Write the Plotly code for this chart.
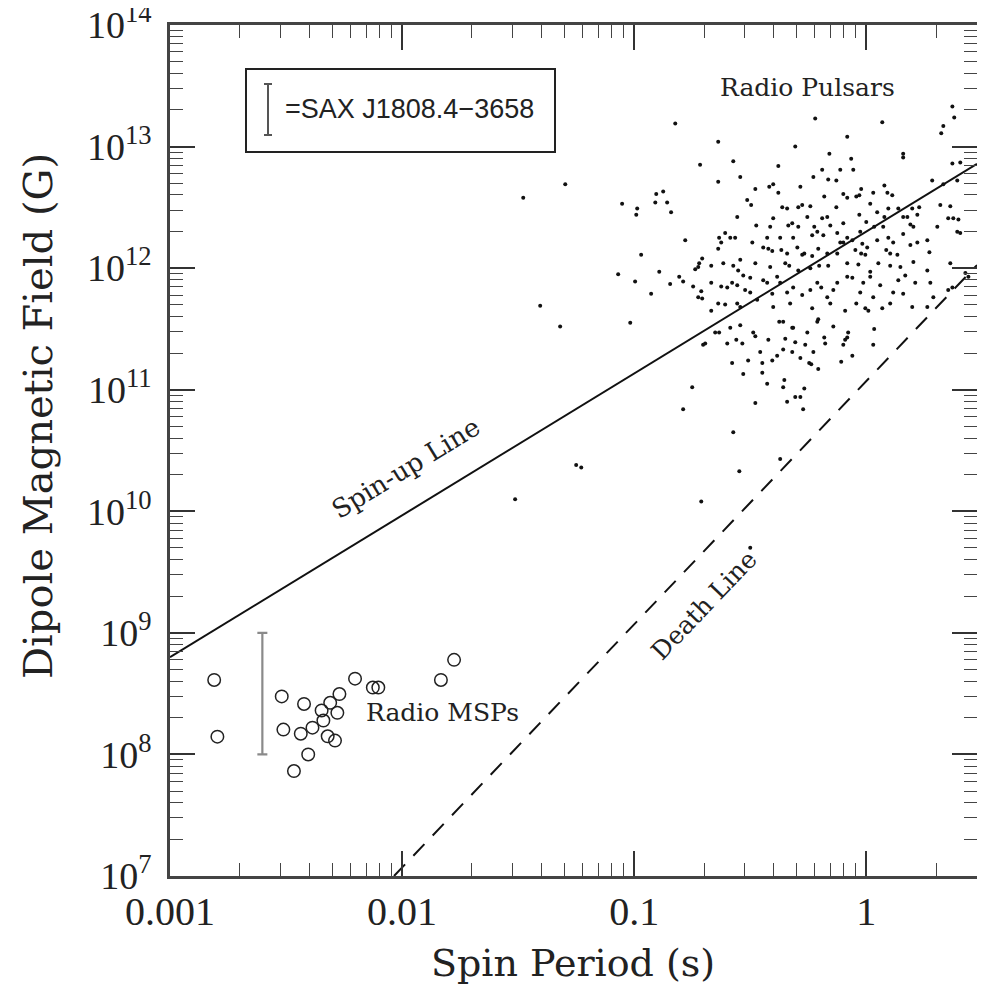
import plotly.graph_objects as go

# ---------------- data ----------------
# Radio millisecond pulsars (open circles): spin period (s), dipole field (G)
msp_period = [0.00155, 0.0016, 0.00303, 0.00308, 0.00378, 0.00366, 0.00411, 0.00394,
              0.00342, 0.0045, 0.00458, 0.0049, 0.00537, 0.00526, 0.00478, 0.00514,
              0.00627, 0.00748, 0.0079, 0.0147, 0.01675]
msp_field = [4.1e8, 1.4e8, 3.0e8, 1.6e8, 2.6e8, 1.48e8, 1.66e8, 1.0e8,
             7.3e7, 2.3e8, 1.9e8, 2.66e8, 3.14e8, 2.2e8, 1.41e8, 1.3e8,
             4.2e8, 3.55e8, 3.55e8, 4.1e8, 6.0e8]

# Radio pulsars (dots): log10 period (s), log10 field (G)
pulsar_log_period = [
    -0.823, -0.638, -0.716, -0.638, -1.297, -1.478, -1.052, -0.987, -0.991, -0.905,
    -0.875, -0.909, -0.858, -0.841, -0.780, -0.634, -0.625, -0.608, -0.638, -0.970,
    -1.069, -0.892, -0.996, -0.927, -0.845, -0.806, -0.789, -0.746, -0.737, -0.720,
    -0.707, -0.724, -0.668, -0.616, -0.668, -0.625, -0.599, -0.711, -0.724, -0.707,
    -1.405, -0.668, -0.638, -0.608, -1.319, -1.017, -0.651, -0.634, -0.703, -0.694,
    -0.599, -0.750, -0.789, -1.250, -1.228, -1.513, -0.711, 0.371, 0.379, -0.220,
    0.069, 0.332, 0.323, -0.082, -0.306, 0.159, 0.159, -0.159, -0.573, -0.065,
    -0.379, -0.112, -0.056, -0.190, -0.543, -0.164, -0.129, -0.228, 0.371, 0.284,
    -0.418, -0.401, -0.478, -0.284, -0.022, 0.078, -0.099, -0.513, -0.379, -0.181,
    -0.082, -0.043, -0.030, 0.030, 0.091, 0.112, 0.332, 0.392, -0.496, -0.362,
    -0.341, -0.293, -0.276, -0.241, -0.129, 0.017, 0.095, 0.138, 0.198, 0.228,
    0.319, 0.362, -0.556, -0.401, -0.336, -0.319, -0.254, -0.190, -0.168, -0.030,
    0.047, 0.078, 0.159, 0.177, 0.220, 0.353, 0.375, 0.397, -0.474, -0.414,
    -0.293, -0.224, -0.155, -0.099, 0.000, 0.034, 0.073, 0.190, 0.203, 0.306,
    0.392, 0.405, -0.586, -0.565, -0.491, -0.427, -0.371, -0.315, -0.233, -0.211,
    -0.185, -0.125, -0.082, -0.026, -0.112, -0.099, -0.060, -0.017, 0.004, 0.047,
    0.095, 0.116, 0.159, 0.190, 0.220, 0.263, -0.444, -0.422, -0.405, -0.366,
    -0.341, -0.297, -0.276, -0.267, -0.207, -0.168, -0.125, -0.233, -0.047, -0.022,
    -0.004, 0.086, 0.103, 0.134, 0.272, -0.543, -0.573, -0.552, -0.530, -0.478,
    -0.414, -0.349, -0.332, -0.293, -0.241, -0.203, -0.164, -0.082, -0.034, 0.017,
    0.052, 0.103, 0.147, 0.203, 0.263, 0.362, 0.427, 0.440, -0.578, -0.556,
    -0.500, -0.444, -0.427, -0.384, -0.371, -0.315, -0.211, -0.194, -0.125, -0.082,
    -0.060, -0.013, 0.017, 0.060, 0.138, 0.168, 0.211, 0.276, -0.522, -0.500,
    -0.405, -0.341, -0.276, -0.241, -0.168, -0.142, -0.026, 0.030, 0.116, 0.159,
    0.353, 0.371, -0.556, -0.543, -0.470, -0.401, -0.328, -0.233, -0.155, -0.091,
    -0.043, -0.004, 0.009, 0.069, 0.103, 0.198, 0.263, 0.289, 0.405, -0.543,
    -0.586, -0.487, -0.478, -0.560, -0.534, -0.422, -0.358, -0.375, -0.319, -0.315,
    -0.254, -0.211, -0.207, -0.142, -0.078, -0.082, -0.091, -0.181, -0.177, -0.306,
    -0.263, -0.349, 0.034, 0.030, -0.099, -0.457, -0.358, -0.319, -0.384, -0.405,
    -0.228, -0.284, -0.060, -0.509, -0.448, -0.246, -0.237, -0.207, -0.108, -0.578,
    -0.448, -0.530, -0.427, -0.353, -0.358, -0.267, -0.306, -0.284, -0.341, -0.478,
    -0.272, -0.573, -0.371, -0.547, -0.500]
pulsar_log_field = [
    13.19, 13.04, 12.85, 12.71, 12.69, 12.58, 12.53, 12.49, 12.44, 12.61,
    12.63, 12.54, 12.54, 12.46, 12.23, 12.25, 12.21, 12.29, 12.16, 12.11,
    11.95, 11.97, 11.89, 11.79, 11.87, 11.93, 11.89, 11.85, 11.99, 12.04,
    12.08, 12.01, 12.02, 12.04, 11.88, 11.85, 11.84, 11.81, 11.76, 11.75,
    11.69, 11.65, 11.71, 11.70, 11.52, 11.55, 11.47, 11.47, 11.37, 11.38,
    11.38, 11.02, 10.84, 10.38, 10.36, 10.10, 10.08, 13.33, 13.24, 13.23,
    13.20, 13.17, 13.11, 13.08, 13.00, 12.94, 12.91, 12.94, 12.88, 12.90,
    12.84, 12.81, 12.81, 12.81, 12.75, 12.73, 12.72, 12.75, 12.86, 12.72,
    12.67, 12.69, 12.65, 12.67, 12.65, 12.68, 12.61, 12.56, 12.62, 12.59,
    12.58, 12.59, 12.60, 12.62, 12.62, 12.60, 12.69, 12.72, 12.52, 12.50,
    12.49, 12.50, 12.52, 12.51, 12.50, 12.53, 12.49, 12.49, 12.49, 12.50,
    12.52, 12.51, 12.42, 12.41, 12.35, 12.37, 12.42, 12.41, 12.42, 12.44,
    12.46, 12.42, 12.42, 12.42, 12.44, 12.41, 12.41, 12.40, 12.35, 12.34,
    12.34, 12.34, 12.35, 12.37, 12.38, 12.34, 12.34, 12.36, 12.34, 12.34,
    12.30, 12.29, 12.25, 12.25, 12.21, 12.25, 12.25, 12.25, 12.27, 12.30,
    12.27, 12.29, 12.25, 12.30, 12.21, 12.21, 12.23, 12.20, 12.17, 12.23,
    12.25, 12.21, 12.28, 12.19, 12.21, 12.23, 12.17, 12.16, 12.14, 12.15,
    12.12, 12.17, 12.11, 12.12, 12.16, 12.12, 12.12, 12.10, 12.15, 12.12,
    12.11, 12.15, 12.12, 12.11, 12.13, 12.07, 12.02, 11.98, 11.94, 12.04,
    12.01, 12.04, 12.02, 11.98, 12.00, 12.02, 12.02, 12.04, 12.03, 11.97,
    12.04, 12.02, 12.01, 12.05, 11.98, 12.04, 11.96, 11.93, 11.88, 11.86,
    11.92, 11.90, 11.88, 11.93, 11.88, 11.84, 11.88, 11.84, 11.88, 11.93,
    11.92, 11.88, 11.93, 11.86, 11.90, 11.94, 11.88, 11.88, 11.82, 11.80,
    11.79, 11.80, 11.78, 11.82, 11.76, 11.82, 11.80, 11.76, 11.80, 11.79,
    11.82, 11.84, 11.71, 11.68, 11.74, 11.68, 11.71, 11.67, 11.71, 11.65,
    11.71, 11.67, 11.65, 11.67, 11.71, 11.68, 11.68, 11.76, 12.87, 11.53,
    11.51, 11.47, 11.44, 11.41, 11.38, 11.41, 11.56, 11.56, 11.51, 11.51,
    11.47, 11.56, 11.58, 11.52, 11.47, 11.43, 11.41, 11.43, 11.38, 11.39,
    11.37, 11.42, 11.50, 11.37, 11.37, 11.31, 11.33, 11.31, 11.28, 11.24,
    11.31, 11.26, 11.28, 11.24, 11.22, 11.22, 11.21, 11.17, 11.23, 11.22,
    11.14, 11.13, 11.05, 11.08, 11.02, 11.01, 10.94, 10.94, 10.90, 10.89,
    10.84, 10.65, 10.43, 10.33, 9.70]

# Spin-up line and death line end points
spinup_period = [0.001, 3.0]
spinup_field = [6.3e8, 7.2e12]
death_period = [0.00923, 3.0]
death_field = [1.0e7, 1.06e12]

# SAX J1808.4-3658 field range
sax_period = 0.0025
sax_field_low = 1.0e8
sax_field_high = 1.0e9

# axis ticks
x_tickvals = [0.001, 0.01, 0.1, 1]
x_ticktext = ["0.001", "0.01", "0.1", "1"]
y_tickvals = [1e7, 1e8, 1e9, 1e10, 1e11, 1e12, 1e13, 1e14]
y_ticktext = ["10<sup>7</sup>", "10<sup>8</sup>", "10<sup>9</sup>", "10<sup>10</sup>",
              "10<sup>11</sup>", "10<sup>12</sup>", "10<sup>13</sup>", "10<sup>14</sup>"]

# ---------------- layout helpers ----------------
# target plot-area box on screen (page has an 8px body margin)
OFF = 8
L, R, T, B = 170, 977, 25, 876
FIG_W, FIG_H = 985 - OFF, 988 - OFF
W, H = R - L, B - T


def px(x):
    return (x - L) / W


def py(y):
    return (B - y) / H


SERIF = "DejaVu Serif"
NUM = "Liberation Serif"
INK = "#222222"

pulsar_period = [10 ** v for v in pulsar_log_period]
pulsar_field = [10 ** v for v in pulsar_log_field]

fig = go.Figure()

fig.add_trace(go.Scatter(x=spinup_period, y=spinup_field, mode="lines",
                         line=dict(color="#111111", width=2), showlegend=False, hoverinfo="skip"))
fig.add_trace(go.Scatter(x=death_period, y=death_field, mode="lines",
                         line=dict(color="#111111", width=2, dash="16px,12px"),
                         showlegend=False, hoverinfo="skip"))
fig.add_trace(go.Scatter(x=pulsar_period, y=pulsar_field, mode="markers",
                         marker=dict(color="#111111", size=4, line=dict(width=0)),
                         showlegend=False))
fig.add_trace(go.Scatter(x=msp_period, y=msp_field, mode="markers",
                         marker=dict(symbol="circle-open", color="#222222", size=12.5,
                                     line=dict(width=1.5)),
                         showlegend=False))
sax_mid = (sax_field_low * sax_field_high) ** 0.5
fig.add_trace(go.Scatter(x=[sax_period], y=[sax_mid], mode="markers",
                         marker=dict(color="rgba(0,0,0,0)", size=1),
                         error_y=dict(type="data", symmetric=False,
                                      array=[sax_field_high - sax_mid],
                                      arrayminus=[sax_mid - sax_field_low],
                                      color="#8a8a8a", thickness=2.2, width=5),
                         showlegend=False))

x_minor = [m * 10 ** e for e in (-3, -2, -1, 0) for m in range(2, 10) if m * 10 ** e < 3.01]
y_minor = [m * 10 ** e for e in range(7, 14) for m in range(2, 10)]

axis_common = dict(showline=True, linecolor="#444444", linewidth=2.5, mirror="allticks",
                   ticks="inside", ticklen=25, tickwidth=1.6, tickcolor="#333333",
                   showgrid=False, zeroline=False, automargin=False,
                   ticklabeloverflow="allow")

fig.update_xaxes(type="log", range=[-3.00001, 0.4771], tickmode="array",
                 tickvals=x_tickvals, ticktext=x_ticktext, ticklabelstandoff=-2,
                 tickfont=dict(family=NUM, size=40, color=INK),
                 minor=dict(tickmode="array", tickvals=x_minor, ticks="inside",
                            ticklen=13, tickwidth=1.3, tickcolor="#444444", showgrid=False),
                 **axis_common)
fig.update_yaxes(type="log", range=[6.99999, 14.00001], tickmode="array",
                 tickvals=y_tickvals, ticktext=y_ticktext, ticklabelstandoff=8,
                 tickfont=dict(family=NUM, size=38, color=INK),
                 minor=dict(tickmode="array", tickvals=y_minor, ticks="inside",
                            ticklen=13, tickwidth=1.3, tickcolor="#444444", showgrid=False),
                 **axis_common)

shapes = [
    # legend box
    dict(type="rect", xref="paper", yref="paper", x0=px(246), x1=px(555),
         y0=py(152), y1=py(69), line=dict(color="#222222", width=2), fillcolor="white"),
    # legend error-bar glyph
    dict(type="line", xref="paper", yref="paper", x0=px(268), x1=px(268),
         y0=py(135), y1=py(84), line=dict(color="#555555", width=2)),
    dict(type="line", xref="paper", yref="paper", x0=px(264), x1=px(272),
         y0=py(84), y1=py(84), line=dict(color="#555555", width=2)),
    dict(type="line", xref="paper", yref="paper", x0=px(264), x1=px(272),
         y0=py(135), y1=py(135), line=dict(color="#555555", width=2)),
]

annotations = [
    dict(text="=SAX J1808.4\u22123658", x=px(283), y=py(109), xanchor="left",
         font=dict(family="Liberation Sans", size=27, color=INK)),
    dict(text="Radio Pulsars", x=px(807), y=py(87),
         font=dict(family=SERIF, size=25, color=INK)),
    dict(text="Radio MSPs", x=px(364), y=py(712), xanchor="left",
         font=dict(family=SERIF, size=25, color=INK)),
    dict(text="Spin-up Line", x=px(406), y=py(468), textangle=-31.4,
         font=dict(family=SERIF, size=26, color=INK)),
    dict(text="Death Line", x=px(704), y=py(606), textangle=-46.3,
         font=dict(family=SERIF, size=25, color=INK)),
    dict(text="Spin Period (s)", x=px(573), y=py(963),
         font=dict(family=SERIF, size=38, color=INK)),
    dict(text="Dipole Magnetic Field (G)", x=px(38), y=py(416), textangle=-90,
         font=dict(family=SERIF, size=40, color=INK)),
]
for a in annotations:
    a.setdefault("xref", "paper")
    a.setdefault("yref", "paper")
    a.setdefault("showarrow", False)
    a.setdefault("yanchor", "middle")
    a.setdefault("xanchor", "center")

fig.update_layout(width=FIG_W, height=FIG_H,
                  margin=dict(l=L - OFF, r=FIG_W - (R - OFF), t=T - OFF,
                              b=FIG_H - (B - OFF), autoexpand=False),
                  paper_bgcolor="white", plot_bgcolor="white",
                  shapes=shapes, annotations=annotations, showlegend=False)

fig.write_html("out.html")
